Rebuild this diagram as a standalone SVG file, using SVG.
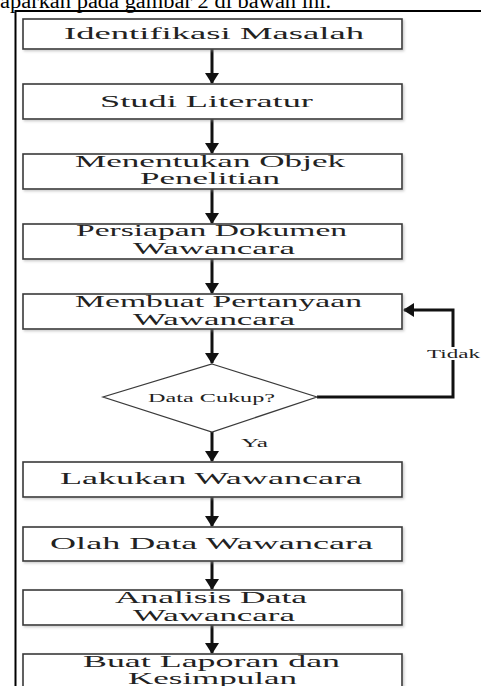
<svg xmlns="http://www.w3.org/2000/svg" width="481" height="686" viewBox="0 0 481 686">
<style>
  .box { fill: #ffffff; stroke: #3a3a3a; stroke-width: 1.6; }
  .t { font-family: "Liberation Serif", "Times New Roman", serif; font-size: 17px; fill: #222; text-anchor: middle; }
  .s { font-family: "Liberation Serif", "Times New Roman", serif; font-size: 12px; fill: #222; }
  .conn { fill: none; stroke: #111; stroke-width: 3; }
  .frame { stroke: #000; stroke-width: 2; fill: none; }
</style>
<defs>
  <marker id="ah" markerUnits="userSpaceOnUse" markerWidth="11" markerHeight="14" refX="10" refY="7" orient="auto">
    <path d="M0,0 L11,7 L0,14 z" fill="#111"/>
  </marker>
  <filter id="sh" x="-5%" y="-20%" width="110%" height="140%">
    <feDropShadow dx="1.5" dy="1.5" stdDeviation="1" flood-color="#999" flood-opacity="0.5"/>
  </filter>
</defs>
<rect width="481" height="686" fill="#ffffff"/>

<text x="0" y="8" font-family="Liberation Serif, Times New Roman, serif" font-size="20" fill="#000" textLength="331" lengthAdjust="spacingAndGlyphs">aparkan pada gambar 2 di bawah ini.</text>
<path class="frame" d="M481,11 H15.5 V686"/>

<g id="connectors">
  <line class="conn" x1="212" y1="49" x2="212" y2="83" marker-end="url(#ah)"/>
  <line class="conn" x1="212" y1="119" x2="212" y2="153" marker-end="url(#ah)"/>
  <line class="conn" x1="212" y1="189" x2="212" y2="223" marker-end="url(#ah)"/>
  <line class="conn" x1="212" y1="259" x2="212" y2="293" marker-end="url(#ah)"/>
  <line class="conn" x1="212" y1="329" x2="212" y2="363" marker-end="url(#ah)"/>
  <line class="conn" x1="212" y1="432" x2="212" y2="461" marker-end="url(#ah)"/>
  <line class="conn" x1="212" y1="497" x2="212" y2="526" marker-end="url(#ah)"/>
  <line class="conn" x1="212" y1="561" x2="212" y2="589" marker-end="url(#ah)"/>
  <line class="conn" x1="212" y1="625" x2="212" y2="653" marker-end="url(#ah)"/>
  <polyline class="conn" points="317,397 453,397 453,310 404,310" marker-end="url(#ah)"/>
  <rect x="426" y="347" width="55" height="13" fill="#ffffff"/>
  <text class="s" transform="translate(427,358) scale(1.8,1)" x="0" y="0" textLength="29.4" lengthAdjust="spacingAndGlyphs">Tidak</text>
  <text class="s" transform="translate(241,447) scale(1.8,1)" x="0" y="0" textLength="15" lengthAdjust="spacingAndGlyphs">Ya</text>
</g>

<g id="n1">
  <rect class="box" filter="url(#sh)" x="23" y="19" width="379" height="30"/>
  <text class="t" transform="translate(214,39) scale(1.8,1)" textLength="166.7" lengthAdjust="spacingAndGlyphs">Identifikasi Masalah</text>
</g>
<g id="n2">
  <rect class="box" filter="url(#sh)" x="23" y="84" width="379" height="35"/>
  <text class="t" transform="translate(206.5,107) scale(1.8,1)" textLength="118.3" lengthAdjust="spacingAndGlyphs">Studi Literatur</text>
</g>
<g id="n3">
  <rect class="box" filter="url(#sh)" x="23" y="154" width="379" height="35"/>
  <text class="t" transform="translate(210,167) scale(1.8,1)" textLength="150" lengthAdjust="spacingAndGlyphs">Menentukan Objek</text>
  <text class="t" transform="translate(210,184) scale(1.8,1)" textLength="77.8" lengthAdjust="spacingAndGlyphs">Penelitian</text>
</g>
<g id="n4">
  <rect class="box" filter="url(#sh)" x="23" y="224" width="379" height="35"/>
  <text class="t" transform="translate(211.5,236) scale(1.8,1)" textLength="150.6" lengthAdjust="spacingAndGlyphs">Persiapan Dokumen</text>
  <text class="t" transform="translate(214,254) scale(1.8,1)" textLength="90" lengthAdjust="spacingAndGlyphs">Wawancara</text>
</g>
<g id="n5">
  <rect class="box" filter="url(#sh)" x="23" y="294" width="379" height="35"/>
  <text class="t" transform="translate(218.5,307) scale(1.8,1)" textLength="159.4" lengthAdjust="spacingAndGlyphs">Membuat Pertanyaan</text>
  <text class="t" transform="translate(214,325) scale(1.8,1)" textLength="90" lengthAdjust="spacingAndGlyphs">Wawancara</text>
</g>
<g id="decision">
  <polygon points="212,364 317,397 212,432 103,397" fill="#ffffff" stroke="#3a3a3a" stroke-width="1.2"/>
  <text class="s" transform="translate(148,402) scale(1.8,1)" textLength="70.6" lengthAdjust="spacingAndGlyphs">Data Cukup?</text>
</g>
<g id="n6">
  <rect class="box" filter="url(#sh)" x="23" y="462" width="379" height="35"/>
  <text class="t" transform="translate(211,484) scale(1.8,1)" textLength="167.8" lengthAdjust="spacingAndGlyphs">Lakukan Wawancara</text>
</g>
<g id="n7">
  <rect class="box" filter="url(#sh)" x="23" y="527" width="379" height="34"/>
  <text class="t" transform="translate(211.5,549) scale(1.8,1)" textLength="179.4" lengthAdjust="spacingAndGlyphs">Olah Data Wawancara</text>
</g>
<g id="n8">
  <rect class="box" filter="url(#sh)" x="23" y="590" width="379" height="35"/>
  <text class="t" transform="translate(211,603) scale(1.8,1)" textLength="106.7" lengthAdjust="spacingAndGlyphs">Analisis Data</text>
  <text class="t" transform="translate(214,621) scale(1.8,1)" textLength="90" lengthAdjust="spacingAndGlyphs">Wawancara</text>
</g>
<g id="n9">
  <rect class="box" filter="url(#sh)" x="23" y="654" width="379" height="45"/>
  <text class="t" transform="translate(211.5,667) scale(1.8,1)" textLength="142.8" lengthAdjust="spacingAndGlyphs">Buat Laporan dan</text>
  <text class="t" transform="translate(212.5,684) scale(1.8,1)" textLength="93.9" lengthAdjust="spacingAndGlyphs">Kesimpulan</text>
</g>
</svg>
